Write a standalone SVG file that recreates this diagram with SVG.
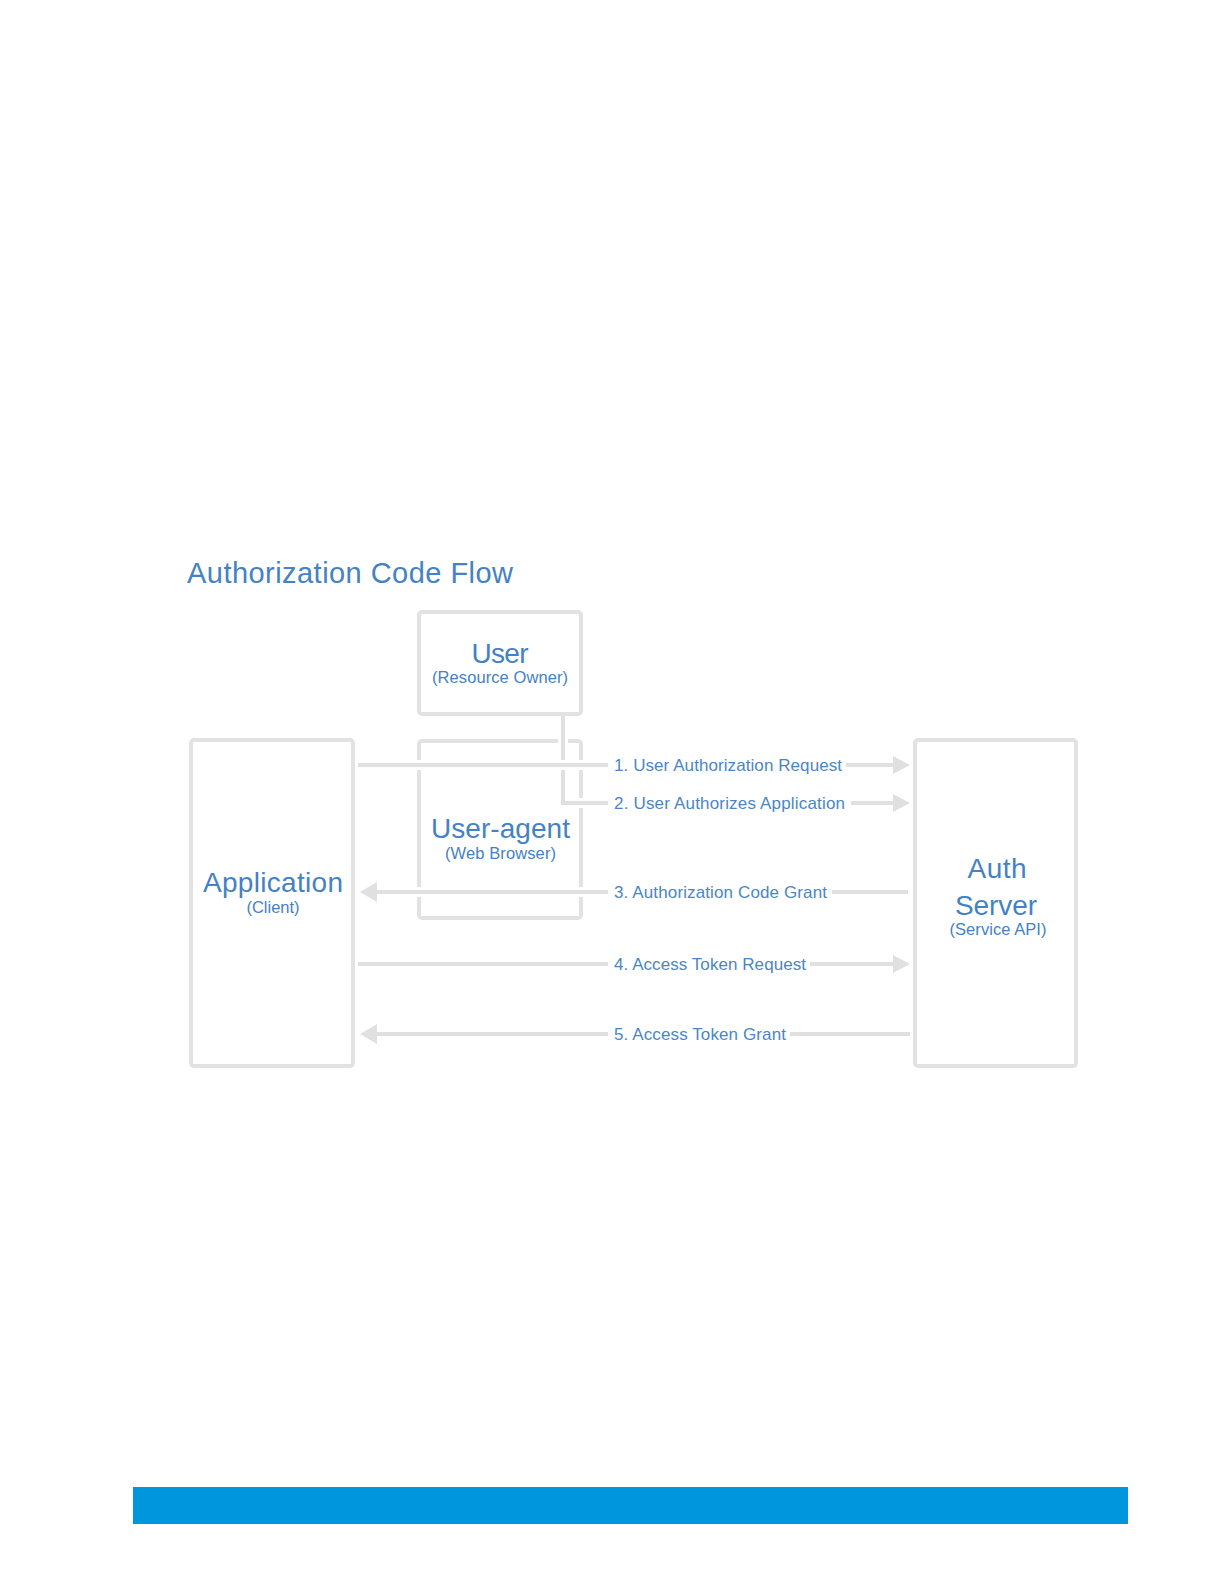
<svg xmlns="http://www.w3.org/2000/svg" width="1224" height="1584" viewBox="0 0 1224 1584">
<style>
.box{fill:#fff;stroke:#e2e2e2;stroke-width:4}
.halo{fill:none;stroke:#fff;stroke-width:10}
.ln{fill:none;stroke:#e0e0e0;stroke-width:4}
.ah{fill:#e0e0e0}
.t{font-family:"Liberation Sans",Arial,sans-serif;fill:#4482c4}
.big{font-size:28px}
.sm{font-size:16.5px}
.lbl{font-family:"Liberation Sans",Arial,sans-serif;font-size:17px;fill:#4a86c6}
</style>
<rect width="1224" height="1584" fill="#fff"/>
<text class="t" style="font-size:29px" x="187" y="583" textLength="326">Authorization Code Flow</text>
<g id="user">
<rect class="box" x="419" y="612" width="162" height="102" rx="3"/>
<text class="t big" x="500" y="663" text-anchor="middle" textLength="57">User</text>
<text class="t sm" x="500" y="683" text-anchor="middle" textLength="136">(Resource Owner)</text>
</g>
<g id="user-agent">
<rect class="box" x="419" y="741" width="162" height="177" rx="3"/>
<text class="t big" x="500.5" y="838" text-anchor="middle" textLength="139">User-agent</text>
<text class="t sm" x="500.5" y="859" text-anchor="middle" textLength="111">(Web Browser)</text>
</g>
<g id="application">
<rect class="box" x="191" y="740" width="162" height="326" rx="3"/>
<text class="t big" x="273" y="892" text-anchor="middle" textLength="140">Application</text>
<text class="t sm" x="273" y="913" text-anchor="middle" textLength="53">(Client)</text>
</g>
<g id="auth-server">
<rect class="box" x="915" y="740" width="161" height="326" rx="3"/>
<text class="t big" x="997" y="878" text-anchor="middle" textLength="59">Auth</text>
<text class="t big" x="996" y="915" text-anchor="middle" textLength="82">Server</text>
<text class="t sm" x="998" y="935" text-anchor="middle" textLength="97">(Service API)</text>
</g>
<g id="connectors">
<g id="c2">
<path class="halo" d="M563 720 V803 H606 M853 803 H890"/>
<path class="ln" d="M563 716 V803 H608 M851 803 H894"/>
<polygon class="ah" points="893,794 910,803 893,812"/>
<text class="lbl" x="614" y="809" textLength="231">2. User Authorizes Application</text>
</g>
<g id="c1">
<path class="halo" d="M362 765 H606 M848 765 H890"/>
<path class="ln" d="M358 765 H608 M846 765 H894"/>
<polygon class="ah" points="893,756 910,765 893,774"/>
<text class="lbl" x="614" y="771" textLength="228">1. User Authorization Request</text>
</g>
<g id="c3">
<path class="halo" d="M380 892 H606 M834 892 H905"/>
<path class="ln" d="M376 892 H608 M832 892 H908"/>
<polygon class="ah" points="377,882 360,892 377,902"/>
<text class="lbl" x="614" y="898" textLength="213">3. Authorization Code Grant</text>
</g>
<g id="c4">
<path class="ln" d="M358 964 H608 M810 964 H894"/>
<polygon class="ah" points="893,955 910,964 893,973"/>
<text class="lbl" x="614" y="970" textLength="192">4. Access Token Request</text>
</g>
<g id="c5">
<path class="ln" d="M376 1034 H608 M790 1034 H910"/>
<polygon class="ah" points="377,1024 360,1034 377,1044"/>
<text class="lbl" x="614" y="1040" textLength="172">5. Access Token Grant</text>
</g>
</g>
<rect x="133" y="1487" width="995" height="37" fill="#0096dd"/>
</svg>
